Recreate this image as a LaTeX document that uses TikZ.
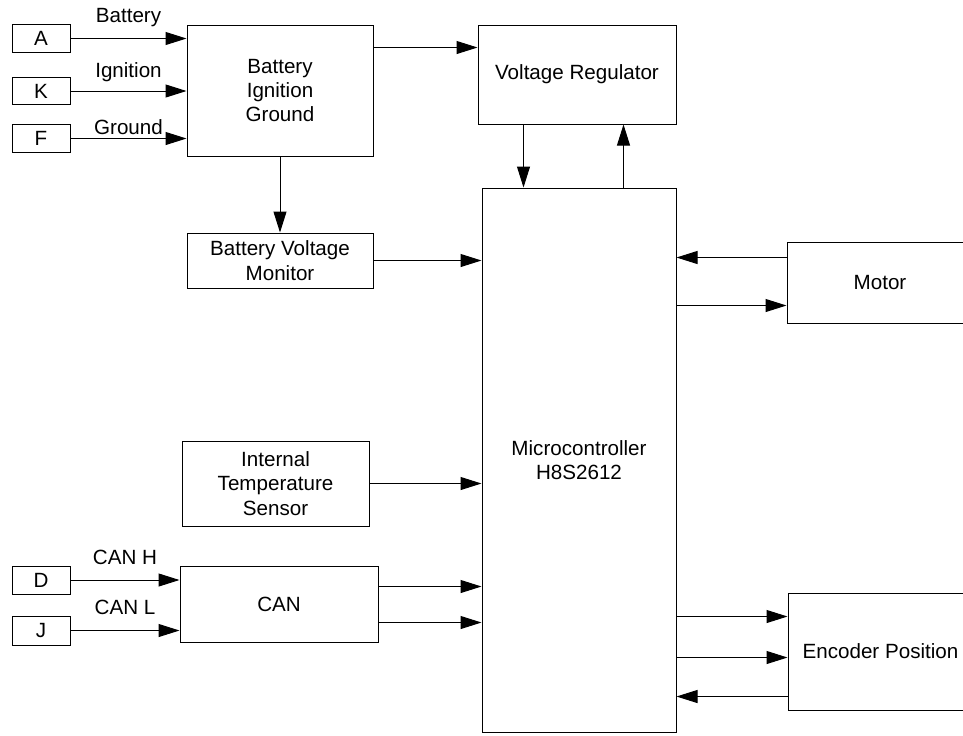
\documentclass[tikz,border=0pt]{standalone}
\usepackage{fontspec}
\setmainfont{Liberation Sans}
\usetikzlibrary{arrows.meta,positioning,calc}

\begin{document}
\begin{tikzpicture}[x=0.5pt,y=-0.5pt, every node/.style={align=center,font=\fontsize{10.3}{12.2}\selectfont}, box/.style={draw,line width=0.5pt,inner sep=1pt}, term/.style={box,minimum width=29pt,minimum height=13.75pt}, arr/.style={-{Triangle[length=10.5pt,width=6.5pt]},line width=0.5pt}, lbl/.style={midway,anchor=base,inner sep=0pt}]
\useasboundingbox (0,0) rectangle (963,735);
% power input side
\node[term] (termA) at (41,38.5) {A};
\node[term,below=12pt of termA] (termK) {K};
\node[term,below=9.5pt of termK] (termF) {F};
\node[box,minimum width=93pt,minimum height=65.5pt] (supply) at (280,90.5) {Battery\\Ignition\\Ground};
\node[box,minimum width=93pt,minimum height=27.5pt,below=38pt of supply] (monitor) {Battery Voltage\\Monitor};
\node[box,minimum width=99pt,minimum height=49.5pt] (regulator) at (577,74.5) {Voltage Regulator};
\node[box,minimum width=97pt,minimum height=272pt] (mcu) at (579,460) {Microcontroller\\H8S2612};
\node[box,minimum width=93pt,minimum height=40.5pt] (motor) at (880,282.5) {Motor};
\node[box,minimum width=93.5pt,minimum height=42.5pt] (sensor) at (275.5,483.5) {Internal\\Temperature\\Sensor};
% bus side
\node[box,minimum width=99pt,minimum height=38pt] (can) at (279,604) {CAN};
\node[term,minimum height=14pt] (termD) at (41,580) {D};
\node[term,minimum height=14.5pt,below=10.5pt of termD] (termJ) {J};
\node[box,minimum width=92.5pt,minimum height=58.5pt] (encoder) at (880.5,651.5) {Encoder Position};
\draw[arr] (termA.east) -- (termA.east -| supply.west) node[lbl,yshift=8pt] {Battery};
\draw[arr] (termK.east) -- (termK.east -| supply.west) node[lbl,yshift=7pt] {Ignition};
\draw[arr] (termF.east) -- (termF.east -| supply.west) node[lbl,yshift=2pt] {Ground};
\draw[arr] ([yshift=-11.5pt]supply.north east) -- ([yshift=-11.5pt]regulator.north west);
\draw[arr] (supply.south) -- (monitor.north);
\draw[arr] ([xshift=23pt]regulator.south west) -- ([xshift=23pt]regulator.south west |- mcu.north);
\draw[arr] ([xshift=-26.5pt]regulator.south east |- mcu.north) -- ([xshift=-26.5pt]regulator.south east);
\draw[arr] (monitor.east) -- (monitor.east -| mcu.west);
\draw[arr] ([yshift=-8pt]motor.north west) -- ([yshift=-8pt]motor.north west -| mcu.east);
\draw[arr] ([yshift=9pt]motor.south west -| mcu.east) -- ([yshift=9pt]motor.south west);
\draw[arr] (sensor.east) -- (sensor.east -| mcu.west);
\draw[arr] (termD.east) -- (termD.east -| can.west) node[lbl,yshift=8pt] {CAN H};
\draw[arr] (termJ.east) -- (termJ.east -| can.west) node[lbl,yshift=8pt] {CAN L};
\draw[arr] ([yshift=-10.5pt]can.north east) -- ([yshift=-10.5pt]can.north east -| mcu.west);
\draw[arr] ([yshift=10pt]can.south east) -- ([yshift=10pt]can.south east -| mcu.west);
\draw[arr] ([yshift=-12pt]encoder.north west -| mcu.east) -- ([yshift=-12pt]encoder.north west);
\draw[arr] ([yshift=-32.5pt]encoder.north west -| mcu.east) -- ([yshift=-32.5pt]encoder.north west);
\draw[arr] ([yshift=7pt]encoder.south west) -- ([yshift=7pt]encoder.south west -| mcu.east);
\end{tikzpicture}
\end{document}
